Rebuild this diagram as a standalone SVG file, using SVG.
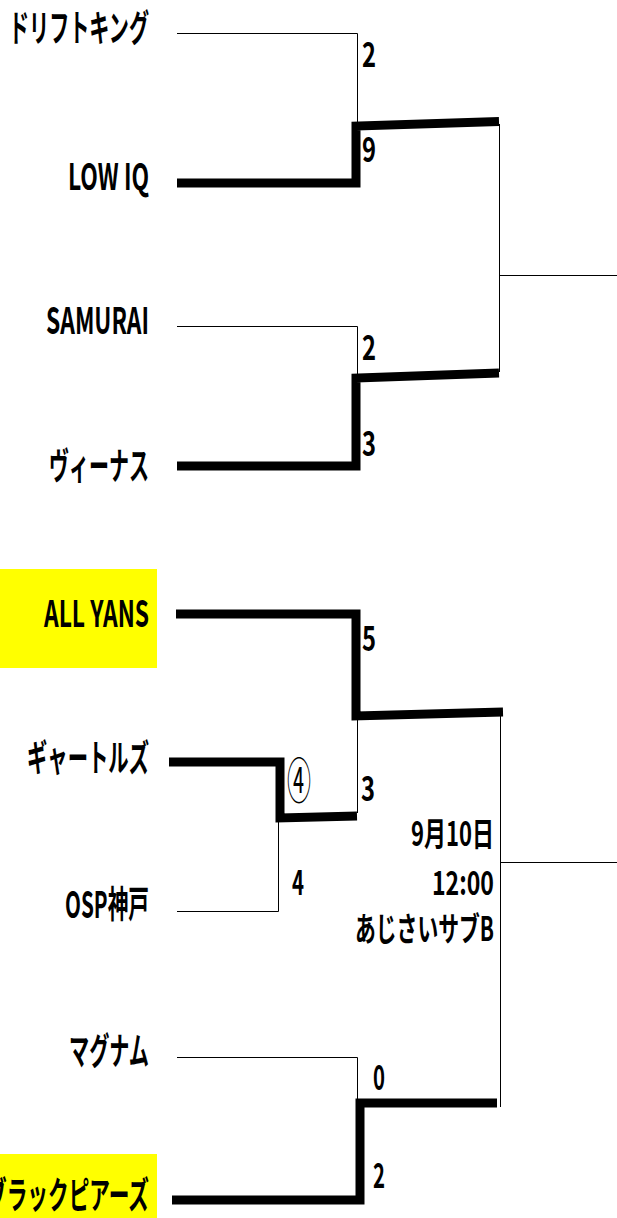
<svg xmlns="http://www.w3.org/2000/svg" width="617" height="1218" viewBox="0 0 617 1218">
<style>
.t{font-family:"Noto Sans CJK JP","Liberation Sans",sans-serif;font-weight:bold;font-size:37px;fill:#000}
.n{font-family:"Noto Sans CJK JP","Liberation Sans",sans-serif;font-weight:bold;font-size:34px;fill:#000}
.c{font-family:"Noto Sans CJK JP","Liberation Sans",sans-serif;font-weight:normal;font-size:49px;fill:#000}
.d{font-family:"Noto Sans CJK JP","Liberation Sans",sans-serif;font-weight:bold;font-size:33px;fill:#000}
.thin{fill:none;stroke:#000;stroke-width:1}
.thick{fill:none;stroke:#000;stroke-width:9;stroke-linejoin:miter;stroke-linecap:butt}
.hl{fill:#FFFF00}
</style>
<rect width="617" height="1218" fill="#fff"/>
<g id="highlights">
<rect class="hl" x="0" y="569" width="157" height="99"/>
<rect class="hl" x="0" y="1154" width="157" height="64"/>
</g>
<g id="connectors">
<path class="thin" d="M177,33.5 H357.5 V123"/>
<path class="thin" d="M177,326.5 H357.5 V374"/>
<path class="thin" d="M499.5,124 V372"/>
<path class="thin" d="M499.5,275.5 H617"/>
<path class="thin" d="M357.5,717 V813"/>
<path class="thin" d="M278.5,822 V911.5 H177"/>
<path class="thin" d="M500.5,715 V1107"/>
<path class="thin" d="M500.5,862.5 H617"/>
<path class="thin" d="M177,1057.5 H357.5 V1099"/>
<path class="thick" d="M177,183 H356 V126 L499,121.5"/>
<path class="thick" d="M177,466 H356 V378 L499,373"/>
<path class="thick" d="M176,614 H356 V716 L503,712"/>
<path class="thick" d="M169,762 H280 V818 L357,816"/>
<path class="thick" d="M172,1200 H360 V1103 H497"/>
</g>
<g id="team-driftking"><text class="t" x="9" y="42" textLength="140" lengthAdjust="spacingAndGlyphs">ドリフトキング</text></g>
<g id="team-lowiq"><text class="t" x="68" y="190" textLength="81" lengthAdjust="spacingAndGlyphs">LOW IQ</text></g>
<g id="team-samurai"><text class="t" x="46" y="334" textLength="103" lengthAdjust="spacingAndGlyphs">SAMURAI</text></g>
<g id="team-venus"><text class="t" x="49" y="480" textLength="100" lengthAdjust="spacingAndGlyphs">ヴィーナス</text></g>
<g id="team-allyans"><text class="t" x="44" y="627" textLength="105" lengthAdjust="spacingAndGlyphs">ALL YANS</text></g>
<g id="team-gyatoruzu"><text class="t" x="27" y="772" textLength="122" lengthAdjust="spacingAndGlyphs">ギャートルズ</text></g>
<g id="team-osp"><text class="t" x="65" y="918" textLength="84" lengthAdjust="spacingAndGlyphs">OSP神戸</text></g>
<g id="team-magnum"><text class="t" x="69" y="1065" textLength="80" lengthAdjust="spacingAndGlyphs">マグナム</text></g>
<g id="team-blackpiers"><text class="t" x="-14" y="1209" textLength="163" lengthAdjust="spacingAndGlyphs">ブラックピアーズ</text></g>
<g id="scores">
<text class="n" x="362" y="67" textLength="14" lengthAdjust="spacingAndGlyphs">2</text>
<text class="n" x="362" y="162" textLength="14" lengthAdjust="spacingAndGlyphs">9</text>
<text class="n" x="362" y="360" textLength="14" lengthAdjust="spacingAndGlyphs">2</text>
<text class="n" x="362" y="456" textLength="14" lengthAdjust="spacingAndGlyphs">3</text>
<text class="n" x="362" y="651" textLength="14" lengthAdjust="spacingAndGlyphs">5</text>
<text class="n" x="361" y="801" textLength="14" lengthAdjust="spacingAndGlyphs">3</text>
<text class="n" x="292" y="895" textLength="12" lengthAdjust="spacingAndGlyphs">4</text>
<text class="n" x="373" y="1090" textLength="12" lengthAdjust="spacingAndGlyphs">0</text>
<text class="n" x="373" y="1188" textLength="12" lengthAdjust="spacingAndGlyphs">2</text>
<text class="c" x="287" y="799" textLength="24" lengthAdjust="spacingAndGlyphs">④</text>
</g>
<g id="match-info">
<text class="d" x="411" y="846" textLength="83" lengthAdjust="spacingAndGlyphs">9月10日</text>
<text class="d" x="432" y="895" textLength="62" lengthAdjust="spacingAndGlyphs">12:00</text>
<text class="d" x="355" y="941" textLength="139" lengthAdjust="spacingAndGlyphs">あじさいサブB</text>
</g>
</svg>
